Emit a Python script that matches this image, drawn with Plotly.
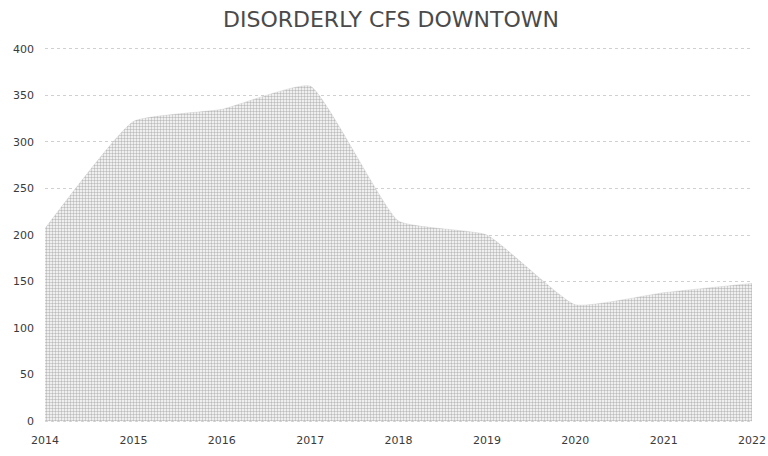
import plotly.graph_objects as go

years = [2014, 2015, 2016, 2017, 2018, 2019, 2020, 2021, 2022]
calls = [207, 322, 335, 360, 215, 200, 125, 138, 148]
y_ticks = [0, 50, 100, 150, 200, 250, 300, 350, 400]
title_text = "DISORDERLY CFS DOWNTOWN"

W, H = 768, 456

fig = go.Figure()
fig.add_trace(go.Scatter(
    x=years, y=calls, mode="lines",
    line=dict(width=0.5, shape="spline", smoothing=0.4, color="rgba(170,170,170,0.5)"),
    fill="tozeroy",
    fillpattern=dict(shape=".", size=3, solidity=0.5, fgcolor="#7a7a7a", bgcolor="white"),
    hoverinfo="x+y",
))

fig.update_layout(
    width=W, height=H,
    margin=dict(l=45, r=16, t=47, b=33),
    paper_bgcolor="white", plot_bgcolor="white",
    showlegend=False,
    title=dict(text=title_text, x=391/W, xref="container", xanchor="center",
               y=1-19/H, yref="container", yanchor="middle",
               font=dict(family="DejaVu Sans", size=22, color="#4a4a4a")),
    font=dict(family="DejaVu Sans", size=11, color="#3a3a3a"),
)
fig.update_xaxes(range=[2014, 2022], tickvals=years, ticktext=[str(y) for y in years],
                 showgrid=False, zeroline=False, showline=False, ticks="",
                 ticklabelstandoff=9, automargin=False, fixedrange=True)
fig.update_yaxes(range=[-2, 402], tickvals=y_ticks, showgrid=True, gridcolor="#d0d0d0",
                 griddash="dot", gridwidth=1, zeroline=False, showline=False, ticks="",
                 ticklabelstandoff=10, automargin=False, fixedrange=True)

fig.write_html("out.html", config={"displayModeBar": False},
               post_script="document.body.style.margin='0';document.body.style.overflow='hidden';")
